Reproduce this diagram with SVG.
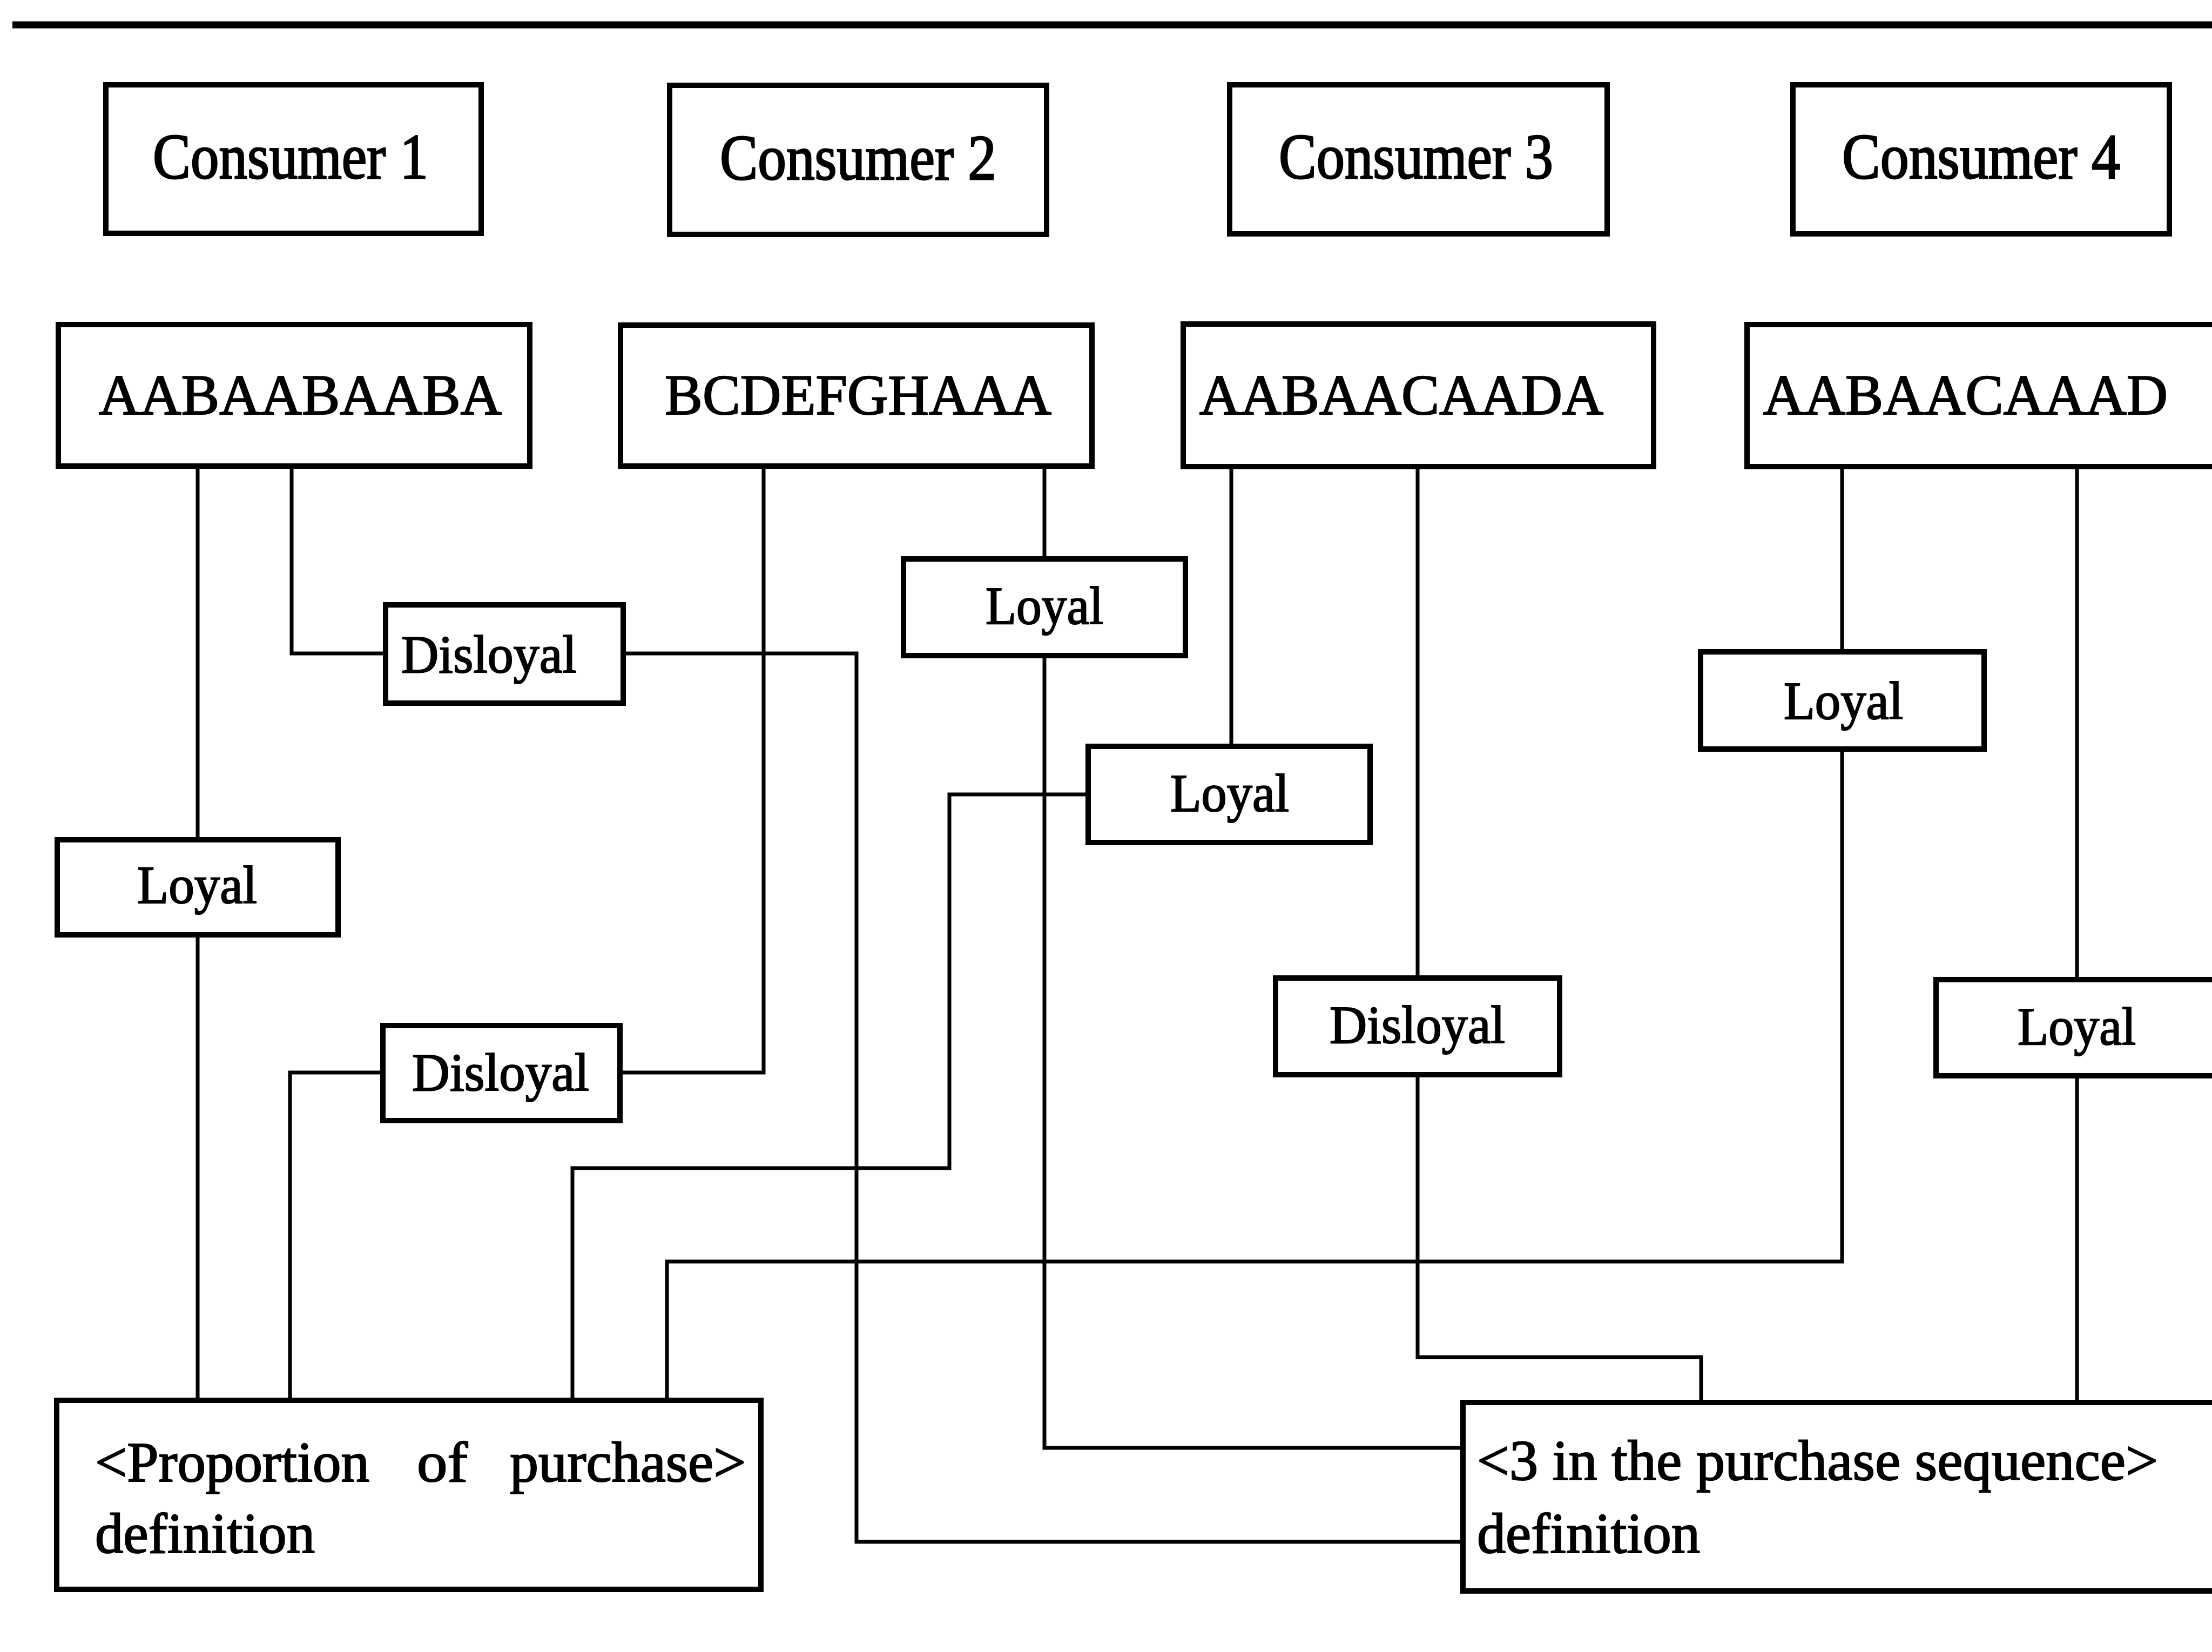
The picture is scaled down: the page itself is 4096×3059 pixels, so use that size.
<svg xmlns="http://www.w3.org/2000/svg" width="4096" height="3059" viewBox="0 0 4096 3059">
  <style>
    .box { fill: #ffffff; stroke: #000000; stroke-width: 10; }
    .wire { fill: none; stroke: #000000; stroke-width: 7; stroke-linejoin: miter; }
    .rule { stroke: #000000; stroke-width: 13; }
    .lbl { font-family: "Liberation Serif", "Times New Roman", serif; fill: #000000; stroke: #000000; stroke-width: 2.2; }
    .big { font-size: 118px; stroke-width: 2.8; }
    .seq { font-size: 106px; }
    .tag { font-size: 100px; }
    .def { font-size: 106px; }
  </style>
  <rect width="4096" height="3059" fill="#ffffff"/>
  <line class="rule" x1="23" y1="46" x2="4096" y2="46"/>

  <!-- connectors -->
  <g id="connectors">
    <path class="wire" d="M366 864 V1555"/>
    <path class="wire" d="M366 1731 V2593"/>
    <path class="wire" d="M540 864 V1210 H714"/>
    <path class="wire" d="M1154 1210 H1586 V2855 H2709"/>
    <path class="wire" d="M1414 864 V1986 H1148"/>
    <path class="wire" d="M709 1986 H537 V2593"/>
    <path class="wire" d="M1934 864 V1035"/>
    <path class="wire" d="M1934 1214 V2681 H2709"/>
    <path class="wire" d="M2280 864 V1382"/>
    <path class="wire" d="M2015 1471 H1758 V2163 H1060 V2593"/>
    <path class="wire" d="M2625 864 V1811"/>
    <path class="wire" d="M2625 1990 V2513 H3150 V2597"/>
    <path class="wire" d="M3411 864 V1207"/>
    <path class="wire" d="M3411 1387 V2336 H1235 V2593"/>
    <path class="wire" d="M3846 864 V1814"/>
    <path class="wire" d="M3846 1992 V2597"/>
  </g>

  <!-- consumers -->
  <g id="consumer1">
    <rect class="box" x="196" y="157" width="695" height="275"/>
    <text class="lbl big" x="283" y="330" textLength="510" lengthAdjust="spacingAndGlyphs">Consumer 1</text>
  </g>
  <g id="consumer2">
    <rect class="box" x="1240" y="158" width="698" height="276"/>
    <text class="lbl big" x="1333" y="332" textLength="512" lengthAdjust="spacingAndGlyphs">Consumer 2</text>
  </g>
  <g id="consumer3">
    <rect class="box" x="2277" y="157" width="699" height="276"/>
    <text class="lbl big" x="2368" y="330" textLength="508" lengthAdjust="spacingAndGlyphs">Consumer 3</text>
  </g>
  <g id="consumer4">
    <rect class="box" x="3320" y="157" width="697" height="276"/>
    <text class="lbl big" x="3411" y="330" textLength="515" lengthAdjust="spacingAndGlyphs">Consumer 4</text>
  </g>

  <!-- purchase sequences -->
  <g id="seq1">
    <rect class="box" x="108" y="601" width="873" height="262"/>
    <text class="lbl seq" x="183" y="767" textLength="746" lengthAdjust="spacingAndGlyphs">AABAABAABA</text>
  </g>
  <g id="seq2">
    <rect class="box" x="1149" y="602" width="873" height="261"/>
    <text class="lbl seq" x="1231" y="767" textLength="716" lengthAdjust="spacingAndGlyphs">BCDEFGHAAA</text>
  </g>
  <g id="seq3">
    <rect class="box" x="2191" y="600" width="871" height="264"/>
    <text class="lbl seq" x="2221" y="767" textLength="748" lengthAdjust="spacingAndGlyphs">AABAACAADA</text>
  </g>
  <g id="seq4">
    <rect class="box" x="3235" y="601" width="880" height="263"/>
    <text class="lbl seq" x="3265" y="767" textLength="749" lengthAdjust="spacingAndGlyphs">AABAACAAAD</text>
  </g>

  <!-- loyalty judgements -->
  <g id="c1-loyal">
    <rect class="box" x="106" y="1555" width="520" height="176"/>
    <text class="lbl tag" x="254" y="1672" textLength="222" lengthAdjust="spacingAndGlyphs">Loyal</text>
  </g>
  <g id="c1-disloyal">
    <rect class="box" x="714" y="1120" width="440" height="182"/>
    <text class="lbl tag" x="743" y="1245" textLength="325" lengthAdjust="spacingAndGlyphs">Disloyal</text>
  </g>
  <g id="c2-loyal">
    <rect class="box" x="1673" y="1035" width="522" height="179"/>
    <text class="lbl tag" x="1825" y="1155" textLength="218" lengthAdjust="spacingAndGlyphs">Loyal</text>
  </g>
  <g id="c2-disloyal">
    <rect class="box" x="709" y="1899" width="439" height="176"/>
    <text class="lbl tag" x="763" y="2019" textLength="328" lengthAdjust="spacingAndGlyphs">Disloyal</text>
  </g>
  <g id="c3-loyal">
    <rect class="box" x="2015" y="1382" width="522" height="178"/>
    <text class="lbl tag" x="2167" y="1502" textLength="220" lengthAdjust="spacingAndGlyphs">Loyal</text>
  </g>
  <g id="c3-disloyal">
    <rect class="box" x="2362" y="1811" width="526" height="179"/>
    <text class="lbl tag" x="2462" y="1931" textLength="325" lengthAdjust="spacingAndGlyphs">Disloyal</text>
  </g>
  <g id="c4-loyal-a">
    <rect class="box" x="3149" y="1207" width="525" height="180"/>
    <text class="lbl tag" x="3303" y="1331" textLength="221" lengthAdjust="spacingAndGlyphs">Loyal</text>
  </g>
  <g id="c4-loyal-b">
    <rect class="box" x="3585" y="1814" width="530" height="178"/>
    <text class="lbl tag" x="3736" y="1934" textLength="219" lengthAdjust="spacingAndGlyphs">Loyal</text>
  </g>

  <!-- loyalty definitions -->
  <g id="def-proportion">
    <rect class="box" x="105" y="2593" width="1304" height="350"/>
    <text class="lbl def" y="2743"><tspan x="176" textLength="508" lengthAdjust="spacingAndGlyphs">&lt;Proportion</tspan><tspan x="772" textLength="94" lengthAdjust="spacingAndGlyphs">of</tspan><tspan x="944" textLength="437" lengthAdjust="spacingAndGlyphs">purchase&gt;</tspan></text>
    <text class="lbl def" x="176" y="2875" textLength="407" lengthAdjust="spacingAndGlyphs">definition</text>
  </g>
  <g id="def-sequence">
    <rect class="box" x="2709" y="2597" width="1400" height="349"/>
    <text class="lbl def" x="2735" y="2740" textLength="1261" lengthAdjust="spacingAndGlyphs">&lt;3 in the purchase sequence&gt;</text>
    <text class="lbl def" x="2735" y="2875" textLength="413" lengthAdjust="spacingAndGlyphs">definition</text>
  </g>
</svg>
